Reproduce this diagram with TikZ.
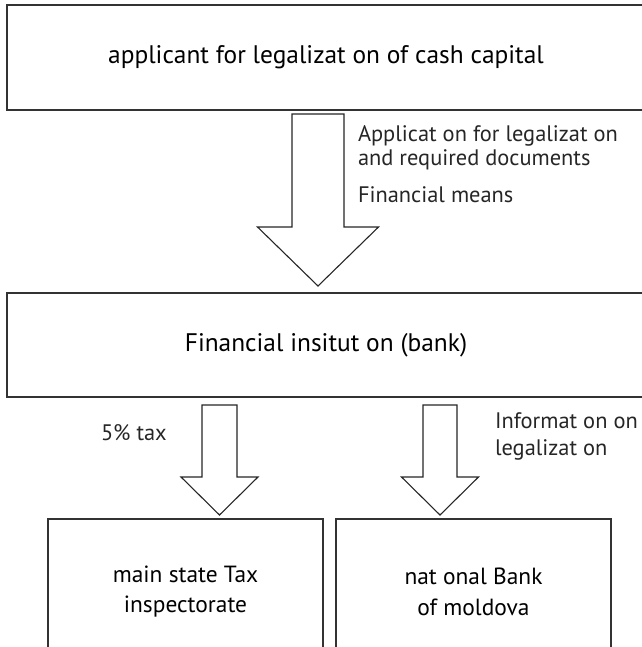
\documentclass[tikz,border=0pt]{standalone}
\usepackage{fontspec}
\setmainfont{PT Sans}
\usetikzlibrary{calc}

% Hollow block arrow from a start coordinate straight down to a tip coordinate.
% #1 start, #2 tip, #3 half shaft width, #4 half head width, #5 head length
\newcommand\hollowarrow[5]{%
  \draw[blockarrow] let \p1=(#1), \p2=(#2) in
    (\x1-#3,\y1) -- (\x1+#3,\y1) -- (\x1+#3,\y2+#5) -- (\x1+#4,\y2+#5)
    -- (\x2,\y2) -- (\x1-#4,\y2+#5) -- (\x1-#3,\y2+#5) -- cycle;}

\begin{document}
\begin{tikzpicture}[x=1bp,y=-1bp,
  box/.style={draw=black!80, line width=1.4bp, inner sep=0pt, outer sep=0pt,
    align=center, text=black, font=\fontsize{25.5}{31}\selectfont},
  smallbox/.style={box, font=\fontsize{23.5}{31}\selectfont},
  blockarrow/.style={draw=black!85, line width=1.1bp, fill=white, line join=miter},
  flowlabel/.style={inner sep=0pt, outer sep=0pt, align=left, text=black!85,
    font=\fontsize{22.5}{22}\selectfont}]

\useasboundingbox (0,0) rectangle (642,647);

% boxes
\node[box, minimum width=638bp, minimum height=105bp] (applicant) at (326,57.5)
  {applicant for legalizat on of cash capital};
\node[box, minimum width=638bp, minimum height=104bp] (bank) at (326,345)
  {Financial insitut on (bank)};
\node[smallbox, minimum width=275bp, minimum height=145bp] (tax) at (185.5,591.5)
  {main state Tax\\inspectorate};
\node[smallbox, minimum width=275bp, minimum height=145bp] (nbm) at (473.5,591.5)
  {nat onal Bank\\of moldova};

% arrow end points
\coordinate (a1s) at (318,114);
\coordinate (a1t) at (318,286);
\coordinate (a2s) at (219.5,405);
\coordinate (a2t) at (219.5,515);
\coordinate (a3s) at (440,405);
\coordinate (a3t) at (440,515);

\hollowarrow{a1s}{a1t}{26bp}{60.5bp}{59bp}
\hollowarrow{a2s}{a2t}{17.5bp}{38.5bp}{38bp}
\hollowarrow{a3s}{a3t}{17bp}{38.5bp}{38bp}

% labels beside the arrows
\node[flowlabel, anchor=base west] (l1) at (358,142) {Applicat on for legalizat on};
\node[flowlabel, anchor=base west] (l2) at (358,166) {and required documents};
\node[flowlabel, anchor=base west] (l3) at (358,202) {Financial means};
\node[flowlabel, anchor=base west] (l4) at (101,440) {5\% tax};
\node[flowlabel, anchor=base west] (l5) at (495,428) {Informat on on};
\node[flowlabel, anchor=base west] (l6) at (495,455) {legalizat on};
\end{tikzpicture}
\end{document}
